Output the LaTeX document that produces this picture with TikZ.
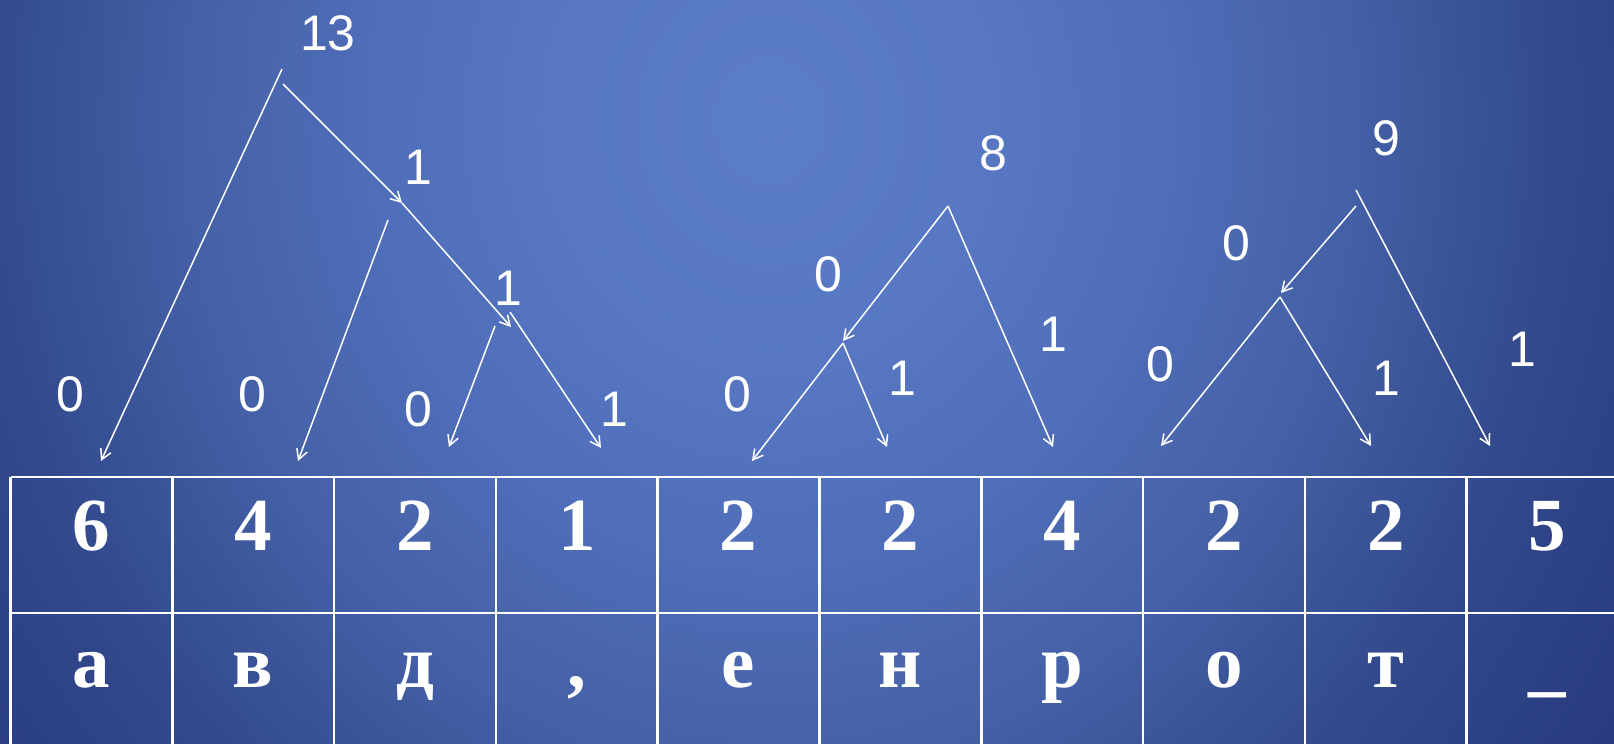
\documentclass[tikz,border=0pt]{standalone}
\usepackage{fontspec}
\setmainfont{Liberation Serif}
\newfontfamily\lblfont{Liberation Sans}
\usetikzlibrary{arrows.meta}
\definecolor{bgA}{HTML}{5C7DC8}
\definecolor{bgB}{HTML}{5777C3}
\definecolor{bgC}{HTML}{4F6DB8}
\definecolor{bgD}{HTML}{4460A6}
\definecolor{bgE}{HTML}{32498C}
\definecolor{bgF}{HTML}{27397D}
\definecolor{bgG}{HTML}{24377A}
\pgfdeclareradialshading{bgshade}{\pgfpoint{0bp}{0bp}}{color(0bp)=(bgA); color(6.25bp)=(bgB); color(11.25bp)=(bgC); color(16.25bp)=(bgD); color(22bp)=(bgE); color(28.75bp)=(bgF); color(35bp)=(bgG); color(50bp)=(bgG)}
\begin{document}
\begin{tikzpicture}[x=0.5pt,y=-0.5pt,
  edge/.style={draw=white, line width=0.75pt, -{Straight Barb[length=5pt,width=5.5pt]}},
  lbl/.style={text=white, font=\lblfont\fontsize{25}{30}\selectfont, inner sep=0pt, anchor=center},
  cellnum/.style={text=white, font=\bfseries\fontsize{37.5}{40}\selectfont, inner sep=0pt, anchor=base},
  gridline/.style={draw=white, line width=1.3pt}]
\useasboundingbox (0,0) rectangle (1614,744);
\begin{scope}
\clip (0,0) rectangle (1614,744);
\shade[shading=bgshade] (-130,-880) rectangle (1670,1120);
\end{scope}

% ---- table grid ----
\draw[gridline] (10.5,477) -- (1630,477);
\draw[gridline] (10.5,613) -- (1630,613);
\foreach \i in {0,...,9} {
  \draw[gridline] ({10.5+161.8*\i},477) -- ({10.5+161.8*\i},760);
}

% ---- table text ----
\foreach \v [count=\i from 0] in {6,4,2,1,2,2,4,2,2,5} {
  \node[cellnum] (num\i) at ({91.4+161.8*\i},550) {\v};
}
\node[cellnum] (ch0) at ({91.4+161.8*0},687) {а};
\node[cellnum] (ch1) at ({91.4+161.8*1},687) {в};
\node[cellnum] (ch2) at ({91.4+161.8*2},687) {д};
\node[cellnum] (ch3) at ({91.4+161.8*3},687) {,};
\node[cellnum] (ch4) at ({91.4+161.8*4},687) {е};
\node[cellnum] (ch5) at ({91.4+161.8*5},687) {н};
\node[cellnum] (ch6) at ({91.4+161.8*6},687) {р};
\node[cellnum] (ch7) at ({91.4+161.8*7},687) {о};
\node[cellnum] (ch8) at ({91.4+161.8*8},687) {т};
\node[cellnum] (ch9) at ({91.4+161.8*9},687) {\_};

% ---- tree 1 ----
\coordinate (t1rootA) at (282,69);
\coordinate (t1rootB) at (283,84);
\coordinate (t1n1) at (402,203);
\coordinate (t1n1L) at (388,220);
\coordinate (t1n2) at (511,327);
\coordinate (t1n2L) at (495,326);
\coordinate (t1n2R) at (510,312);
\coordinate (t1leafA) at (101,461);
\coordinate (t1leafB) at (298,461);
\coordinate (t1leafC) at (449,447);
\coordinate (t1leafD) at (601,448);
\draw[edge] (t1rootA) -- (t1leafA);
\draw[edge] (t1rootB) -- (t1n1);
\draw[edge] (t1n1) -- (t1n2);
\draw[edge] (t1n1L) -- (t1leafB);
\draw[edge] (t1n2L) -- (t1leafC);
\draw[edge] (t1n2R) -- (t1leafD);
\node[lbl] (l13) at (328,33) {13};
\node[lbl] (l1a) at (418,167) {1};
\node[lbl] (l1b) at (508,288) {1};
\node[lbl] (l0a) at (70,394) {0};
\node[lbl] (l0b) at (252,394) {0};
\node[lbl] (l0c) at (418,409) {0};
\node[lbl] (l1c) at (614,409) {1};

% ---- tree 2 ----
\coordinate (t2root) at (948,206);
\coordinate (t2n1) at (843,341);
\coordinate (t2n1s) at (843,343);
\coordinate (t2leafA) at (752,461);
\coordinate (t2leafB) at (887,447);
\coordinate (t2leafC) at (1053,447);
\draw[edge] (t2root) -- (t2n1);
\draw[edge] (t2n1s) -- (t2leafA);
\draw[edge] (t2n1s) -- (t2leafB);
\draw[edge] (t2root) -- (t2leafC);
\node[lbl] (l8) at (993,153) {8};
\node[lbl] (m0a) at (828,274) {0};
\node[lbl] (m1a) at (1053,334) {1};
\node[lbl] (m0b) at (737,394) {0};
\node[lbl] (m1b) at (902,378) {1};

% ---- tree 3 ----
\coordinate (t3rootR) at (1356,190);
\coordinate (t3rootL) at (1356,206);
\coordinate (t3n1) at (1281,293);
\coordinate (t3n1s) at (1280,297);
\coordinate (t3leafA) at (1161,446);
\coordinate (t3leafB) at (1371,446);
\coordinate (t3leafC) at (1490,446);
\draw[edge] (t3rootL) -- (t3n1);
\draw[edge] (t3n1s) -- (t3leafA);
\draw[edge] (t3n1s) -- (t3leafB);
\draw[edge] (t3rootR) -- (t3leafC);
\node[lbl] (l9) at (1386,138) {9};
\node[lbl] (r0a) at (1236,243) {0};
\node[lbl] (r0b) at (1160,364) {0};
\node[lbl] (r1a) at (1386,378) {1};
\node[lbl] (r1b) at (1522,349) {1};
\end{tikzpicture}
\end{document}
